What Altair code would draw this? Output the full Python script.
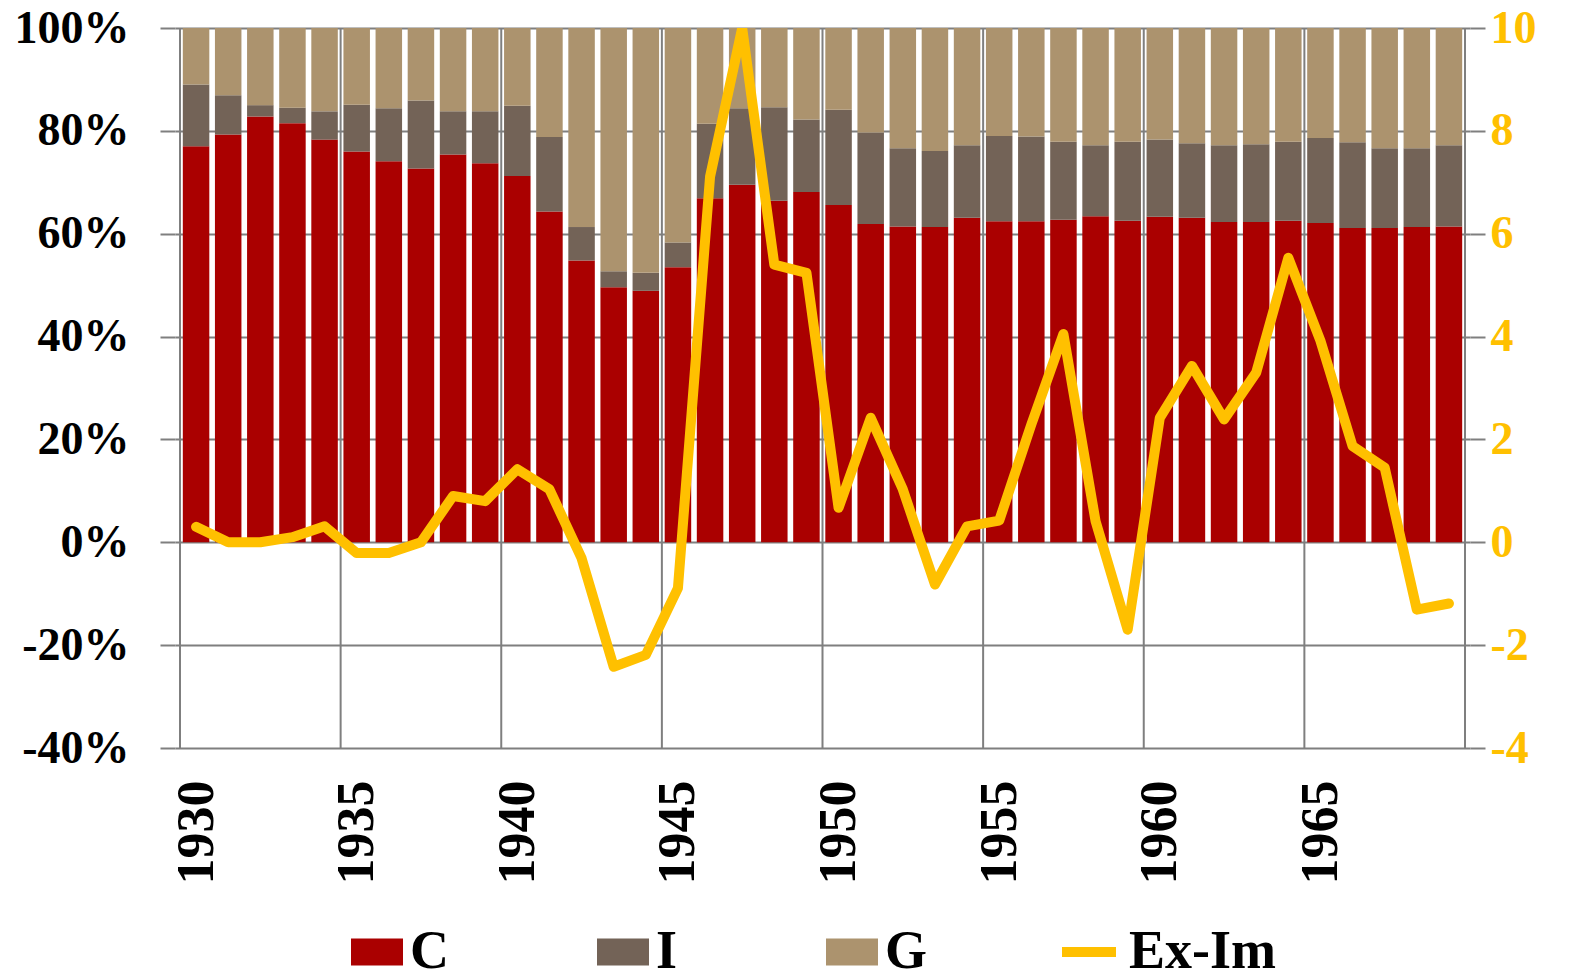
import altair as alt
import pandas as pd

years = list(range(1930, 1970))
C = [77.0, 79.3, 82.8, 81.5, 78.3, 76.0, 74.1, 72.7, 75.4, 73.7,
     71.2, 64.3, 54.8, 49.6, 48.9, 53.5, 66.9, 69.5, 66.4, 68.1,
     65.6, 61.9, 61.4, 61.3, 63.1, 62.4, 62.4, 62.7, 63.4, 62.5,
     63.3, 63.1, 62.3, 62.3, 62.5, 62.1, 61.1, 61.1, 61.3, 61.4]
I = [12.0, 7.6, 2.2, 3.0, 5.5, 9.1, 10.3, 13.2, 8.4, 10.1,
     13.7, 14.5, 6.5, 3.1, 3.5, 4.8, 14.5, 14.9, 18.2, 14.1,
     18.5, 17.8, 15.2, 14.8, 14.1, 16.6, 16.5, 15.2, 13.8, 15.4,
     15.0, 14.5, 14.9, 15.1, 15.4, 16.5, 16.7, 15.5, 15.3, 15.8]
G = [11.0, 13.1, 15.0, 15.5, 16.2, 14.9, 15.6, 14.1, 16.2, 16.2,
     15.1, 21.2, 38.7, 47.3, 47.6, 41.7, 18.6, 15.6, 15.4, 17.8,
     15.9, 20.3, 23.4, 23.9, 22.8, 21.0, 21.1, 22.1, 22.8, 22.1,
     21.7, 22.4, 22.8, 22.6, 22.1, 21.4, 22.2, 23.4, 23.4, 22.8]
ex_im = [0.30, 0.0, 0.0, 0.10, 0.31, -0.21, -0.21, 0.0, 0.90, 0.80,
         1.42, 1.03, -0.31, -2.42, -2.19, -0.89, 7.11, 10.0, 5.40, 5.24,
         0.67, 2.42, 1.03, -0.82, 0.31, 0.42, 2.29, 4.05, 0.41, -1.70,
         2.42, 3.43, 2.39, 3.30, 5.53, 3.92, 1.87, 1.45, -1.31, -1.19]

components = ["C", "I", "G"]
component_colors = ["#AA0000", "#736357", "#AC936E"]
line_color = "#FFC000"

grid_x = [1929.5, 1934.5, 1939.5, 1944.5, 1949.5, 1954.5, 1959.5, 1964.5, 1969.5]
year_ticks = [1930, 1935, 1940, 1945, 1950, 1955, 1960, 1965]
pct_ticks = [-40, -20, 0, 20, 40, 60, 80, 100]
right_ticks = [-4, -2, 0, 2, 4, 6, 8, 10]

rows = []
for k, (name, vals) in enumerate(zip(components, [C, I, G])):
    for yr, v in zip(years, vals):
        rows.append({"year": yr, "component": name, "share": v, "order": k})
bars_df = pd.DataFrame(rows)
line_df = pd.DataFrame({"year": years, "value": ex_im, "series": ["Ex-Im"] * len(years)})
grid_df = pd.DataFrame({"bx": grid_x})

FONT = "Liberation Serif"
GRID = "#7F7F7F"

xscale = alt.Scale(domain=[1929.5, 1969.5], nice=False, zero=False)
xaxis = alt.Axis(values=year_ticks, format="d", labelAngle=270, grid=False,
                 ticks=False, domain=False, labelFont=FONT, labelFontSize=52,
                 labelFontWeight="bold", labelColor="black", labelPadding=32,
                 title=None)

rules = alt.Chart(grid_df).mark_rule(color=GRID, strokeWidth=2).encode(
    x=alt.X("bx:Q", scale=xscale, axis=xaxis, title=None)
)

bars = alt.Chart(bars_df).mark_bar(size=26.5).encode(
    x=alt.X("year:Q", scale=xscale, axis=xaxis, title=None),
    y=alt.Y("share:Q", stack="zero",
            scale=alt.Scale(domain=[-40, 100], nice=False),
            axis=alt.Axis(values=pct_ticks, labelExpr="datum.value + '%'",
                          grid=True, gridColor=GRID, gridWidth=2,
                          tickSize=15, tickColor=GRID, tickWidth=2,
                          domain=False, labelFont=FONT, labelFontSize=46,
                          labelFontWeight="bold", labelColor="black",
                          labelPadding=31, title=None)),
    color=alt.Color("component:N",
                    scale=alt.Scale(domain=components, range=component_colors),
                    legend=alt.Legend(orient="none", legendX=175, legendY=897,
                                      direction="horizontal", columns=3,
                                      columnPadding=147,
                                      symbolType="M-1,-0.52H1V0.52H-1Z",
                                      symbolSize=2704, symbolStrokeWidth=0,
                                      labelFont=FONT, labelFontSize=54,
                                      labelFontWeight="bold", labelColor="black",
                                      labelOffset=6, title=None)),
    order=alt.Order("order:Q"),
)

line = alt.Chart(line_df).mark_line(strokeWidth=10, strokeCap="round",
                                    strokeJoin="round", clip=True).encode(
    x=alt.X("year:Q", scale=xscale, axis=xaxis, title=None),
    y=alt.Y("value:Q", scale=alt.Scale(domain=[-4, 10], nice=False),
            axis=alt.Axis(orient="right", values=right_ticks, grid=False,
                          labelExpr="datum.value + ''",
                          tickSize=15, tickColor=GRID, tickWidth=2,
                          domain=False, labelFont=FONT, labelFontSize=46,
                          labelFontWeight="bold", labelColor=line_color,
                          labelPadding=5, title=None)),
    stroke=alt.Stroke("series:N",
                      scale=alt.Scale(domain=["Ex-Im"], range=[line_color]),
                      legend=alt.Legend(orient="none", legendX=882, legendY=892,
                                        symbolType="stroke", symbolSize=2916,
                                        symbolStrokeWidth=10,
                                        labelFont=FONT, labelFontSize=54,
                                        labelFontWeight="bold", labelColor="black",
                                        labelOffset=8, title=None)),
)

chart = alt.layer(rules, bars, line).resolve_scale(
    y="independent", color="independent", stroke="independent"
).properties(
    width=1295, height=720,
    autosize=alt.AutoSizeParams(type="none"),
    padding={"left": 167, "top": 20, "right": 96, "bottom": 226},
    background="white",
).configure_view(stroke=None)

chart.save("out.html", embed_options={"renderer": "svg", "actions": False})
